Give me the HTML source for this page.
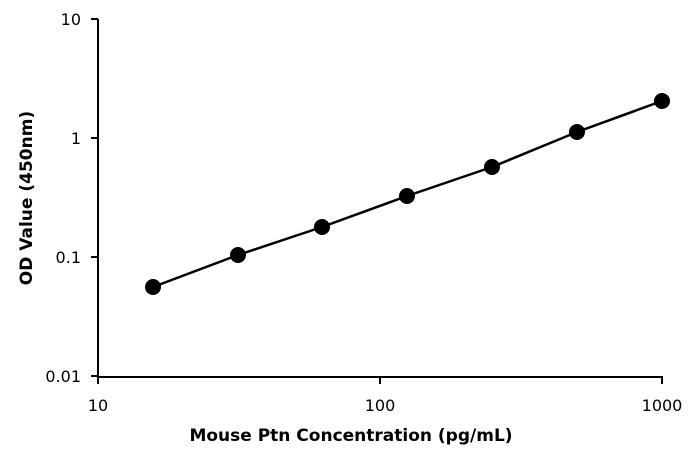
<!DOCTYPE html>
<html><head><meta charset="utf-8"><style>
html,body{margin:0;padding:0;background:#fff;}
svg text{font-family:"DejaVu Sans","Liberation Sans",sans-serif;fill:#000;}
</style></head><body>
<svg width="697" height="454" xmlns="http://www.w3.org/2000/svg">
<rect width="697" height="454" fill="#fff"/>
<g stroke="#000" stroke-width="2" fill="none">
<line x1="98" y1="19" x2="98" y2="377"/>
<line x1="97" y1="377" x2="663" y2="377"/>
<line x1="91" y1="19" x2="98" y2="19"/>
<line x1="91" y1="138" x2="98" y2="138"/>
<line x1="91" y1="257" x2="98" y2="257"/>
<line x1="91" y1="376" x2="98" y2="376"/>
<line x1="98" y1="377" x2="98" y2="384"/>
<line x1="380" y1="377" x2="380" y2="384"/>
<line x1="662" y1="377" x2="662" y2="384"/>
<polyline stroke-width="2.5" points="153,287 238,255 322,227 407,196 492,167 577,132 662,101"/>
</g>
<g fill="#000">
<circle cx="153" cy="287" r="8"/><circle cx="238" cy="255" r="8"/>
<circle cx="322" cy="227" r="8"/><circle cx="407" cy="196" r="8"/>
<circle cx="492" cy="167" r="8"/><circle cx="577" cy="132" r="8"/>
<circle cx="662" cy="101" r="8"/>
</g>
<g font-size="16" text-anchor="end">
<text x="81" y="25">10</text><text x="81" y="144">1</text>
<text x="81" y="263">0.1</text><text x="81" y="382">0.01</text>
</g>
<g font-size="16" text-anchor="middle">
<text x="98" y="411">10</text><text x="380" y="411">100</text><text x="662" y="411">1000</text>
</g>
<text x="351" y="441" font-size="17" font-weight="bold" text-anchor="middle">Mouse Ptn Concentration (pg/mL)</text>
<text transform="translate(32,198) rotate(-90)" font-size="17" font-weight="bold" text-anchor="middle">OD Value (450nm)</text>
</svg>
</body></html>
